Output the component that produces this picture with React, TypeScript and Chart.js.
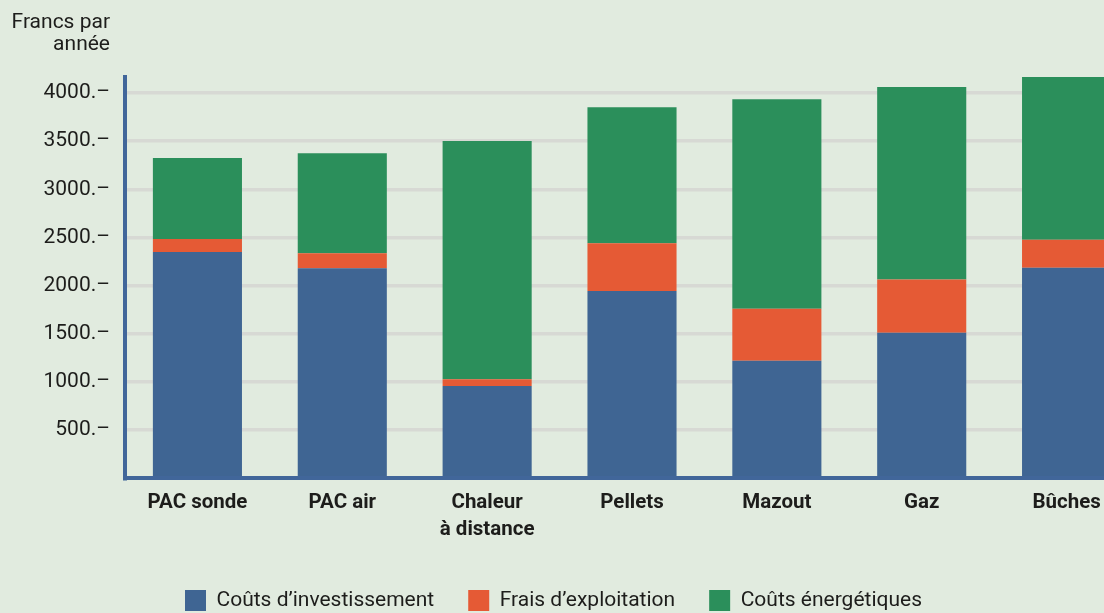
import React, { useEffect, useRef } from "react";
import { Chart, registerables } from "chart.js";

Chart.register(...registerables);

// ---- data ----
const categories: (string | string[])[] = [
  "PAC sonde",
  "PAC air",
  ["Chaleur", "à distance"],
  "Pellets",
  "Mazout",
  "Gaz",
  "Bûches",
];
const seriesNames = ["Coûts d’investissement", "Frais d’exploitation", "Coûts énergétiques"];
const coutsInvestissement = [2350, 2180, 960, 1945, 1220, 1510, 2185];
const fraisExploitation = [135, 155, 70, 495, 540, 555, 290];
const coutsEnergetiques = [840, 1040, 2470, 1410, 2175, 1995, 1690];
const yTickValues = [500, 1000, 1500, 2000, 2500, 3000, 3500, 4000];
const yMax = 4165;
const yTitle = ["Francs par", "année"];

// ---- styles ----
const BG = "#e1ebdf";
const BLUE = "#3f6593";
const ORANGE = "#e55a35";
const GREEN = "#2b8f5b";
const AXIS = "#41669a";
const GRID = "#d7d9d4";
const TEXT = "#1d1d1b";
const FONT = "Roboto";

const titlePlugin = {
  id: "yTitleTopLeft",
  afterDraw(chart: any) {
    const ctx = chart.ctx;
    ctx.save();
    ctx.font = `21px ${FONT}`;
    ctx.fillStyle = TEXT;
    ctx.textAlign = "right";
    ctx.textBaseline = "alphabetic";
    const x = chart.scales.y.right - 15;
    ctx.fillText(yTitle[0], x, 28);
    ctx.fillText(yTitle[1], x, 50);
    ctx.restore();
  },
};

export default function App() {
  const ref = useRef<HTMLCanvasElement>(null);

  useEffect(() => {
    if (!ref.current) return;
    const chart = new Chart(ref.current, {
      type: "bar",
      data: {
        labels: categories as any,
        datasets: [
          { label: seriesNames[0], data: coutsInvestissement, backgroundColor: BLUE },
          { label: seriesNames[1], data: fraisExploitation, backgroundColor: ORANGE },
          { label: seriesNames[2], data: coutsEnergetiques, backgroundColor: GREEN },
        ],
      },
      options: {
        responsive: false,
        animation: false,
        devicePixelRatio: 1,
        layout: { padding: { top: 77, left: 0, right: 0, bottom: 0 } },
        datasets: {
          bar: { barPercentage: 0.615, categoryPercentage: 1, borderWidth: 0 },
        },
        plugins: {
          title: { display: false },
          tooltip: { enabled: false },
          legend: {
            display: true,
            position: "bottom",
            labels: {
              boxWidth: 21,
              boxHeight: 21,
              padding: 34,
              color: TEXT,
              font: { family: FONT, size: 21 },
            },
          },
        },
        scales: {
          x: {
            stacked: true,
            grid: { display: false, drawTicks: false },
            border: { display: true, color: AXIS, width: 4, z: 1 },
            ticks: {
              color: TEXT,
              padding: 11,
              font: { family: FONT, size: 20.5, weight: "bold", lineHeight: 1.3 },
              maxRotation: 0,
              autoSkip: false,
            },
            afterFit: (scale: any) => {
              scale.height = 77.6;
            },
          },
          y: {
            stacked: true,
            min: 0,
            max: yMax,
            grid: { color: GRID, lineWidth: 3.5, drawTicks: false },
            border: { display: true, color: AXIS, width: 4, z: 1 },
            ticks: {
              color: TEXT,
              padding: 15,
              font: { family: FONT, size: 21 },
              stepSize: 500,
              callback: (v: any) => `${v}.–`,
            },
            afterBuildTicks: (scale: any) => {
              scale.ticks = yTickValues.map((v) => ({ value: v }));
            },
            afterFit: (scale: any) => {
              scale.width = 157;
            },
          },
        },
      },
      plugins: [titlePlugin],
    });
    return () => chart.destroy();
  }, []);

  return (
    <div
      style={{
        position: "fixed",
        left: 0,
        top: 0,
        width: 1104,
        height: 613,
        overflow: "hidden",
        background: BG,
      }}
    >
      <div style={{ position: "absolute", left: -32, top: 0 }}>
        <canvas ref={ref} width={1171} height={621} style={{ display: "block" }} />
      </div>
    </div>
  );
}
